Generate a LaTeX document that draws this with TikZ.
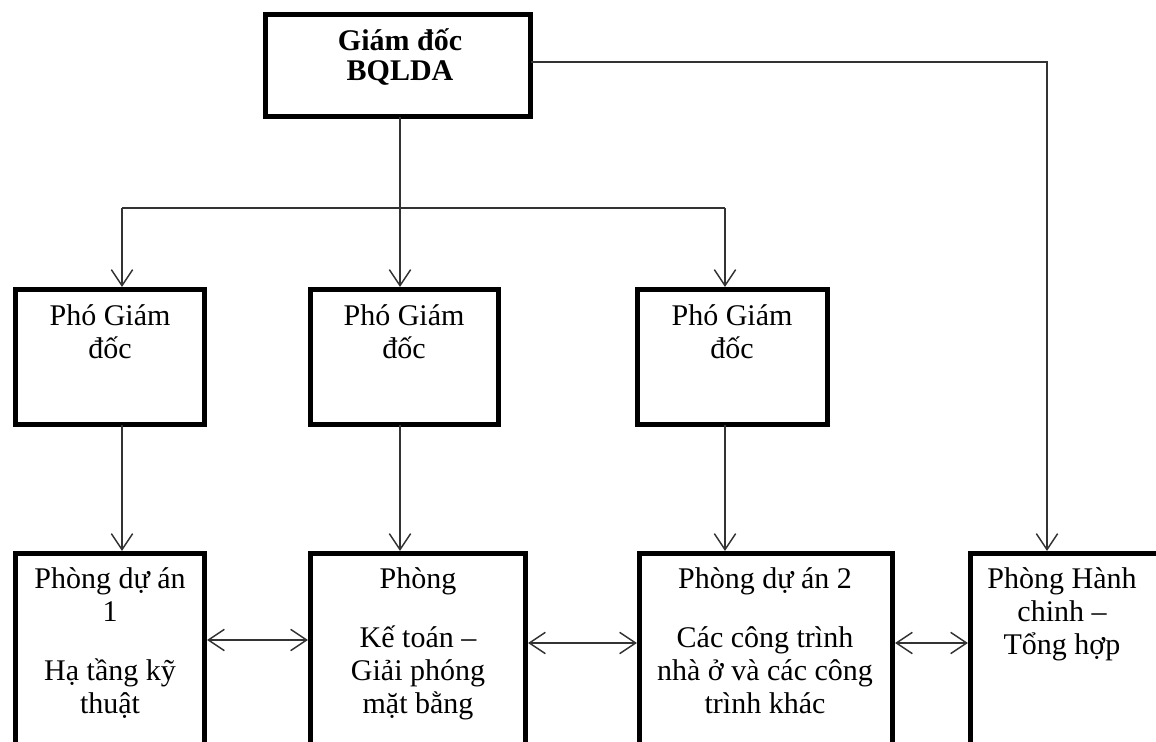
\documentclass[tikz,border=0pt]{standalone}
\usepackage{fontspec}
\setmainfont{Liberation Serif}
\usetikzlibrary{arrows.meta}
\def\pxu{0.75pt}
\AtBeginDocument{\setlength{\lineskiplimit}{-100pt}}

\begin{document}
\begin{tikzpicture}[x=0.75pt,y=-0.75pt,
  box/.style={draw=black, line width=3.75pt, rectangle, inner sep=0pt, outer sep=0pt, line join=miter},
  conn/.style={draw=black!80, line width=1.1pt},
  tipv/.tip={Straight Barb[length=12pt,width=16pt]},
  arr/.style={conn, -tipv, shorten >=1.9pt},
  darr/.style={conn, tipv-tipv, shorten >=1.9pt, shorten <=1.9pt},
  lbl/.style={anchor=north, inner sep=0pt, align=center,
    font=\fontsize{22.5}{24.75}\selectfont},
]
\clip (0,0) rectangle (1156,742);
\fill[white] (0,0) rectangle (1156,742);

% director
\node[box, minimum width=265*\pxu, minimum height=102*\pxu] (top) at (398,65.5) {};
\node[lbl, font=\bfseries\fontsize{22.5}{22.5}\selectfont] (ttop) at (400,16.67)
  {\rule{0pt}{25pt}Giám đốc\\BQLDA};

% deputy directors
\node[box, minimum width=189*\pxu, minimum height=135*\pxu] (m1) at (110,357) {};
\node[box, minimum width=188*\pxu, minimum height=135*\pxu] (m2) at (404.5,357) {};
\node[box, minimum width=190*\pxu, minimum height=135*\pxu] (m3) at (732.5,357) {};
\node[lbl] (tm1) at (110,291.67) {\rule{0pt}{25pt}Phó Giám\\đốc};
\node[lbl] (tm2) at (404,291.67) {\rule{0pt}{25pt}Phó Giám\\đốc};
\node[lbl] (tm3) at (732,291.67) {\rule{0pt}{25pt}Phó Giám\\đốc};

% departments
\node[box, minimum width=189*\pxu, minimum height=206*\pxu] (pa) at (110,656.5) {};
\node[box, minimum width=215*\pxu, minimum height=206*\pxu] (pb) at (418,656.5) {};
\node[box, minimum width=253*\pxu, minimum height=206*\pxu] (pc) at (766,656.5) {};
\node[box, minimum width=200*\pxu, minimum height=206*\pxu] (pd) at (1070.5,656.5) {};
\node[lbl] (tpa) at (110,554.67)
  {\rule{0pt}{25pt}Phòng dự án\\1\\[20pt]Hạ tầng kỹ\\thuật};
\node[lbl] (tpb) at (418,554.67)
  {\rule{0pt}{25pt}Phòng\\[20pt]Kế toán –\\Giải phóng\\mặt bằng};
\node[lbl] (tpc) at (765,554.67)
  {\rule{0pt}{25pt}Phòng dự án 2\\[20pt]Các công trình\\nhà ở và các công\\trình khác};
\node[lbl] (tpd) at (1062,554.67)
  {\rule{0pt}{25pt}Phòng Hành\\chinh –\\Tổng hợp};

% routing points
\coordinate (cx) at (400,0);
\coordinate (busL) at (122,208);
\coordinate (busR) at (725,208);
\coordinate (rc) at (1047,62);
\coordinate (rowA) at (0,640);
\coordinate (rowB) at (0,643);

% connectors
\draw[arr] (top.south -| cx) -- (m2.north -| cx);
\draw[conn] (busL) -- (busR);
\draw[arr] (busL) -- (busL |- m1.north);
\draw[arr] (busR) -- (busR |- m3.north);
\draw[arr] (top.east |- rc) -- (rc) -- (rc |- pd.north);

\draw[arr] (m1.south -| busL) -- (pa.north -| busL);
\draw[arr] (m2.south -| cx) -- (pb.north -| cx);
\draw[arr] (m3.south -| busR) -- (pc.north -| busR);

\draw[darr] (pa.east |- rowA) -- (pb.west |- rowA);
\draw[darr] (pb.east |- rowB) -- (pc.west |- rowB);
\draw[darr] (pc.east |- rowB) -- (pd.west |- rowB);
\end{tikzpicture}
\end{document}
